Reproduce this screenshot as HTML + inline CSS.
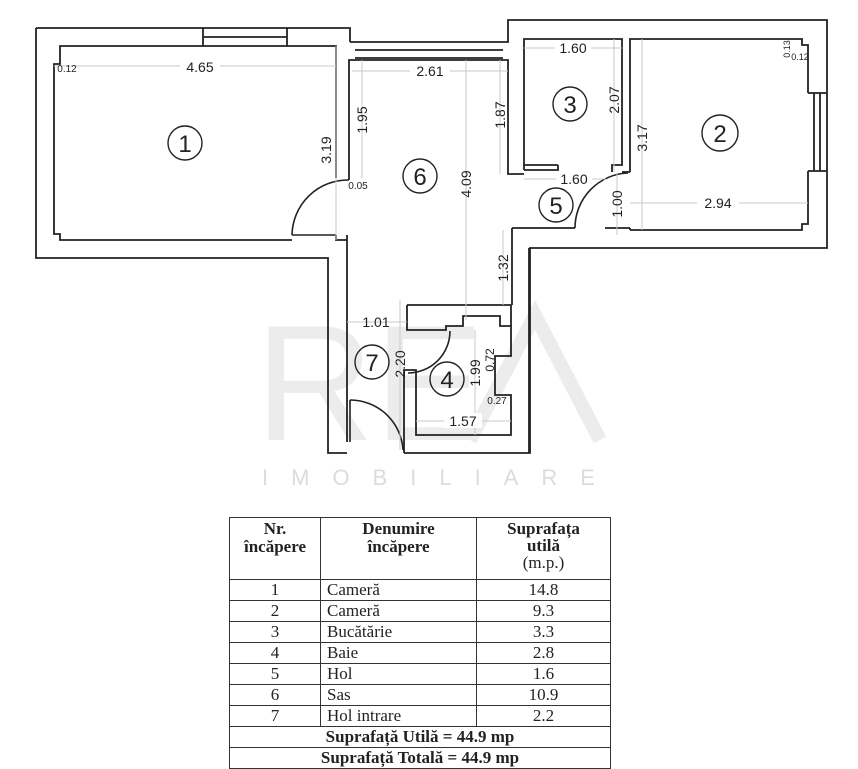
<!DOCTYPE html>
<html><head><meta charset="utf-8"><style>
html,body{margin:0;padding:0;background:#fff;}
svg{display:block;}
table{position:absolute;left:229px;top:517px;width:381px;border-collapse:collapse;font-family:"Liberation Serif",serif;font-size:17px;color:#222;table-layout:fixed;}
td{border:1.5px solid #333;padding:0 6px;height:20px;line-height:18px;overflow:hidden;white-space:nowrap;}
</style></head><body>
<svg width="858" height="768" viewBox="0 0 858 768" xmlns="http://www.w3.org/2000/svg" style="position:absolute;left:0;top:0">
<g font-family="Liberation Sans, sans-serif">
<text x="255" y="440" font-size="165" fill="#ececec">RE</text>
<path d="M470 440 L535 315 L600 440" stroke="#ececec" stroke-width="14" fill="none"/>
<text x="262" y="485" font-size="22" letter-spacing="23" fill="#dcdcdc">IMOBILIARE</text>
</g>
<g fill="none" stroke="#222" stroke-width="1.8">
<path d="M36,28 H350 V42"/>
<path d="M503,42 H508 V20 H827 V248 H530 V453 H404"/>
<path d="M347,453 H328 V258 H36 V28"/>
<path d="M350,42 H503 M355,50 H503 M355,58 H503"/>
<path d="M203,28 V46 M287,28 V46 M203,37 H287"/>
<path d="M292,240 H60 V234 H54 V64 H60 V46 H336 V178"/>
<path d="M336,235 V240 H347"/>
<path d="M349,180 V60 H508 V174 H524"/>
<path d="M347,235 V442"/>
<path d="M524,170 V39 H622 V165 H612 V172 M558,165 H524 M558,165 V170 H524"/>
<path d="M630,172 V39 H802 V45 H808 V93 M808,171 V224 H802 V230 H630 M630,228 V230"/>
<path d="M622,172 H630"/>
<path d="M808,93 H827 M808,171 H827 M814,93 V171 M820,93 V171"/>
<path d="M512,228 H575 M605,228 H630 M512,228 V305"/>
<path d="M407,305 H511 M407,305 V330 H446 V326 H463 V316 H500 V326 H511 V356 H495 V395 H511 V435 H416 V370 H404 V453"/>
<path d="M511,305 V326"/>
<path d="M529,248 V453"/>
</g>
<g fill="none" stroke="#222" stroke-width="1.6">
<path d="M292,235 A56,56 0 0 1 349,180"/>
<path d="M292,235 H336"/>
<path d="M575,228 A55,55 0 0 1 628,173"/>
<path d="M408,373 A42,42 0 0 0 450,331"/>
<path d="M350,400 A53,53 0 0 1 403,450"/>
<path d="M350,400 V442"/>
</g>
<g stroke="#c8c8c8" stroke-width="1" fill="none">
<path d="M54,66 H336 M352,71 H508 M336,46 V240 M362,60 V178 M466,60 V320 M500,60 V174 M524,48 H622 M614,39 V172 M642,39 V230 M524,179 H606 M617,173 V235 M630,203 H808 M503,230 V305 M347,322 H407 M400,300 V450 M475,330 V435 M416,421 H511"/>
</g>
<g font-family="Liberation Sans, sans-serif" fill="#222" font-size="14" text-anchor="middle">
<rect x="180" y="58" width="40" height="16" fill="#fff"/><text x="200" y="72">4.65</text>
<text x="67" y="72" font-size="10">0.12</text>
<rect x="410" y="63" width="40" height="16" fill="#fff"/><text x="430" y="76">2.61</text>
<text transform="translate(367,120) rotate(-90)">1.95</text>
<text transform="translate(331,150) rotate(-90)">3.19</text>
<text x="358" y="189" font-size="10">0.05</text>
<text transform="translate(471,184) rotate(-90)">4.09</text>
<text transform="translate(505,115) rotate(-90)">1.87</text>
<rect x="555" y="40" width="36" height="15" fill="#fff"/><text x="573" y="53">1.60</text>
<text transform="translate(619,100) rotate(-90)">2.07</text>
<text transform="translate(647,138) rotate(-90)">3.17</text>
<rect x="556" y="171" width="36" height="15" fill="#fff"/><text x="574" y="184">1.60</text>
<text transform="translate(622,204) rotate(-90)">1.00</text>
<rect x="697" y="195" width="42" height="15" fill="#fff"/><text x="718" y="208">2.94</text>
<text x="790" y="49" font-size="9" transform="rotate(-90 790 49)">0.13</text>
<text x="800" y="60" font-size="9">0.12</text>
<text transform="translate(508,268) rotate(-90)">1.32</text>
<text x="376" y="327">1.01</text>
<text transform="translate(405,364) rotate(-90)">2.20</text>
<text transform="translate(480,373) rotate(-90)">1.99</text>
<text transform="translate(494,360) rotate(-90)" font-size="12">0.72</text>
<text x="497" y="404" font-size="10">0.27</text>
<rect x="444" y="413" width="38" height="15" fill="#fff"/><text x="463" y="426">1.57</text>
</g>
<g fill="none" stroke="#222" stroke-width="1.4">
<circle cx="185" cy="143" r="17"/><circle cx="420" cy="176" r="17"/>
<circle cx="570" cy="104" r="17"/><circle cx="720" cy="133" r="18"/>
<circle cx="556" cy="205" r="17"/><circle cx="372" cy="362" r="17"/>
<circle cx="447" cy="379" r="17"/>
</g>
<g font-family="Liberation Sans, sans-serif" font-size="24" fill="#222" text-anchor="middle">
<text x="185" y="152">1</text><text x="420" y="185">6</text><text x="570" y="113">3</text>
<text x="720" y="142">2</text><text x="556" y="214">5</text><text x="372" y="371">7</text>
<text x="447" y="388">4</text>
</g>
</svg>
<table>
<colgroup><col style="width:91px"><col style="width:156px"><col style="width:134px"></colgroup>
<tr><td style="height:59px;text-align:center;font-weight:bold;vertical-align:top;padding-top:2px">Nr.<br>încăpere</td><td style="text-align:center;font-weight:bold;vertical-align:top;padding-top:2px">Denumire<br>încăpere</td><td style="text-align:center;vertical-align:top;padding-top:2px;line-height:17px"><b>Suprafața<br>utilă</b><br>(m.p.)</td></tr>
<tr><td align="center">1</td><td>Cameră</td><td align="center">14.8</td></tr>
<tr><td align="center">2</td><td>Cameră</td><td align="center">9.3</td></tr>
<tr><td align="center">3</td><td>Bucătărie</td><td align="center">3.3</td></tr>
<tr><td align="center">4</td><td>Baie</td><td align="center">2.8</td></tr>
<tr><td align="center">5</td><td>Hol</td><td align="center">1.6</td></tr>
<tr><td align="center">6</td><td>Sas</td><td align="center">10.9</td></tr>
<tr><td align="center">7</td><td>Hol intrare</td><td align="center">2.2</td></tr>
<tr><td colspan="3" align="center"><b>Suprafață Utilă = 44.9 mp</b></td></tr>
<tr><td colspan="3" align="center"><b>Suprafață Totală = 44.9 mp</b></td></tr>
</table>
</body></html>
